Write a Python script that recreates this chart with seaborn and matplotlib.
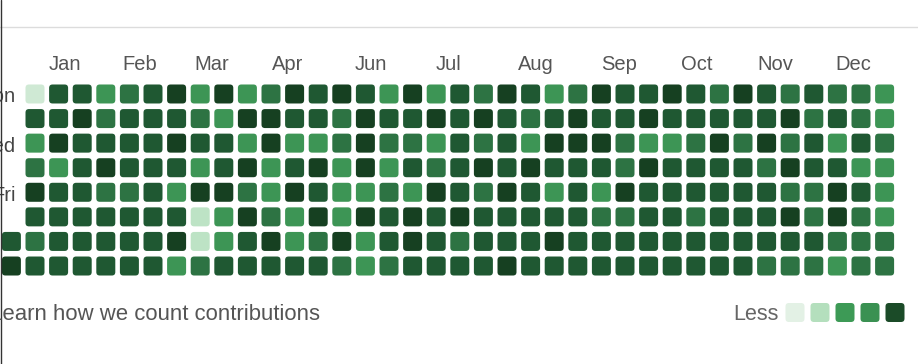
import numpy as np
import pandas as pd
import seaborn as sns
import matplotlib.pyplot as plt
from matplotlib.lines import Line2D
from matplotlib.patches import FancyBboxPatch
from matplotlib.markers import MarkerStyle

# ---------------- data ----------------
N = np.nan
row_mon = [N, 1, 5, 5, 3, 4, 5, 6, 3, 6, 3, 4, 6, 5, 6, 5, 3, 6, 3, 5, 4, 6, 5, 3, 4, 6, 5, 5, 6, 5, 4, 6, 5, 4, 5, 4, 4, 3]
row_2 = [N, 5, 5, 6, 4, 5, 5, 5, 4, 3, 6, 6, 5, 5, 4, 6, 5, 5, 6, 5, 6, 5, 4, 5, 6, 5, 5, 6, 5, 5, 5, 5, 5, 6, 4, 5, 4, 3]
row_wed = [N, 3, 6, 5, 5, 5, 5, 6, 5, 5, 3, 6, 3, 3, 4, 6, 4, 4, 3, 5, 4, 5, 3, 6, 6, 6, 4, 3, 3, 4, 6, 4, 6, 4, 5, 3, 5, 4]
row_4 = [N, 4, 3, 5, 6, 5, 5, 5, 3, 5, 6, 3, 5, 6, 3, 6, 3, 5, 4, 5, 6, 5, 6, 5, 5, 5, 4, 6, 5, 5, 5, 5, 4, 6, 5, 5, 3, 3]
row_fri = [N, 6, 5, 5, 4, 4, 5, 3, 6, 6, 4, 3, 6, 5, 3, 3, 4, 3, 6, 5, 4, 6, 5, 3, 5, 3, 6, 5, 5, 5, 5, 5, 5, 4, 4, 6, 5, 3]
row_6 = [N, 5, 5, 5, 5, 5, 5, 5, 2, 3, 6, 4, 3, 6, 3, 6, 5, 6, 5, 6, 5, 5, 5, 5, 5, 4, 4, 5, 5, 4, 5, 5, 5, 6, 4, 6, 4, 3]
row_7 = [5, 4, 5, 5, 5, 5, 5, 6, 2, 3, 5, 6, 3, 4, 6, 3, 5, 6, 5, 4, 5, 5, 5, 6, 5, 5, 5, 5, 5, 5, 5, 5, 5, 5, 5, 4, 4, 4]
row_8 = [6, 5, 5, 5, 5, 5, 5, 3, 4, 5, 5, 5, 5, 5, 4, 3, 4, 5, 5, 5, 5, 6, 5, 5, 5, 5, 5, 5, 5, 5, 5, 5, 4, 4, 4, 3, 4, 4]

day_labels = ["Mon", "", "Wed", "", "Fri", "", "", ""]
months = ["Jan", "Feb", "Mar", "Apr", "Jun", "Jul", "Aug", "Sep", "Oct", "Nov", "Dec"]
month_tick_pos = [2.75, 5.95, 8.98, 12.22, 15.74, 19.04, 22.73, 26.25, 29.53, 32.86, 36.18]

legend_levels = [1, 2, 3, 4, 5]
footer_text = "Learn how we count contributions"
legend_text = "Less"

# ---------------- style ----------------
level_colors = {1: "#cfe9d4", 2: "#bde3c5", 3: "#3d9555", 4: "#2d7343", 5: "#1f5832", 6: "#164021"}
legend_colors = {1: "#e3f1e5", 2: "#b4dfbd", 3: "#3d9a56", 4: "#3a9152", 5: "#1b4b28"}
FONT = ["Liberation Sans", "DejaVu Sans"]

sns.set_theme(style="white")
plt.rcParams["font.family"] = FONT

W, H = 918, 364
fig = plt.figure(figsize=(W / 100, H / 100), dpi=100)
fig.patch.set_facecolor("white")


def fx(px):
    return px / W


def fy(py):
    return 1 - py / H


# rounded-square marker
_box = FancyBboxPatch((-0.5, -0.5), 1, 1, boxstyle="round,pad=0,rounding_size=0.18")
ROUND_SQ = MarkerStyle(_box.get_path())
CELL_PT = 19 * 0.72  # 19 px side

grid = pd.DataFrame([row_mon, row_2, row_wed, row_4, row_fri, row_6, row_7, row_8])
n_rows, n_cols = grid.shape
long = grid.stack().reset_index()
long.columns = ["row", "col", "level"]
long["x"] = long["col"] + 0.5
long["y"] = long["row"] + 0.5
long["level"] = long["level"].astype(int)

# main grid
left, right, top, bottom = -0.4, 896.4, 81.7, 278.3
ax = fig.add_axes([fx(left), fy(bottom), (right - left) / W, (bottom - top) / H])
sns.scatterplot(data=long, x="x", y="y", hue="level", palette=level_colors,
                marker=ROUND_SQ, s=CELL_PT ** 2, linewidth=0, legend=False, ax=ax)
ax.set_xlim(0, n_cols)
ax.set_ylim(n_rows, 0)
ax.set_axis_off()

row_px = (bottom - top) / n_rows
col_px = (right - left) / n_cols

# month labels
for pos, m in zip(month_tick_pos, months):
    ax.text(pos, (70.5 - top) / row_px, m, ha="center", va="baseline",
            fontsize=14.5, color="#555555", clip_on=False)

# day labels
lab_x = (16 - left) / col_px
for r, d in enumerate(day_labels):
    if d:
        ax.text(lab_x, r + 0.5 + 8.5 / row_px, d, ha="right", va="baseline",
                fontsize=14.5, color="#444444", clip_on=False)

# legend squares
lg = pd.DataFrame({"level": legend_levels})
lg["x"] = np.arange(len(lg)) + 0.5
lg["y"] = 0.5
lg_left, lg_right, lg_top, lg_bottom = 782.5, 907.5, 300.5, 324.5
lax = fig.add_axes([fx(lg_left), fy(lg_bottom), (lg_right - lg_left) / W, (lg_bottom - lg_top) / H])
sns.scatterplot(data=lg, x="x", y="y", hue="level", palette=legend_colors,
                marker=ROUND_SQ, s=CELL_PT ** 2, linewidth=0, legend=False, ax=lax)
lax.set_xlim(0, len(lg))
lax.set_ylim(1, 0)
lax.set_axis_off()

fig.text(fx(779), fy(320), legend_text, ha="right", va="baseline", fontsize=15.5, color="#666666")
fig.text(fx(-10.5), fy(320), footer_text, ha="left", va="baseline", fontsize=15.9, color="#555555")

# frame lines
fig.add_artist(Line2D([0, 1], [fy(27), fy(27)], transform=fig.transFigure, color="#dcdcdc", lw=1))
fig.add_artist(Line2D([fx(0.6), fx(0.6)], [0, 1], transform=fig.transFigure, color="#333333", lw=1))

fig.savefig("out.png", dpi=100, facecolor="white")
